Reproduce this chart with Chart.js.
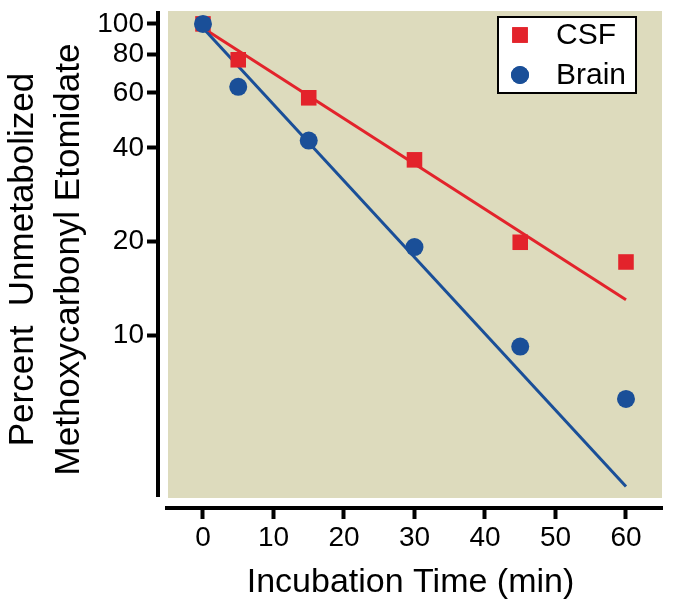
<!DOCTYPE html>
<html lang="en">
<head>
  <meta charset="UTF-8" />
  <title>Etomidate metabolism</title>
  <style>
    body { margin: 0; background: #ffffff; }
    #wrap { width: 685px; height: 608px; }
  </style>
  <script src="https://cdn.jsdelivr.net/npm/chart.js@4.4.1/dist/chart.umd.min.js"></script>
</head>
<body>
  <div id="wrap"><canvas id="chart" width="685" height="608"></canvas></div>
  <script>
    // incubation times (min)
    const times = [0, 5, 15, 30, 45, 60];
    // percent unmetabolized
    const csf = [100, 76.7, 57.9, 36.6, 19.9, 17.2];
    const brain = [100, 62.8, 42.2, 19.2, 9.2, 6.25];
    // fitted lines (end points)
    const fitTimes = [0, 60];
    const csfFit = [97, 13.0];
    const brainFit = [97, 3.27];
    // tick labels
    const xTicks = [0, 10, 20, 30, 40, 50, 60];
    const yTicks = [10, 20, 40, 60, 80, 100];

    const RED = '#e3232b';
    const BLUE = '#1a4f98';
    const FONT = 'Arial, "Liberation Sans", sans-serif';

    const pts = (xs, ys) => xs.map((x, i) => ({ x, y: ys[i] }));

    const plotBg = {
      id: 'plotBg',
      beforeDraw(chart) {
        const { ctx, chartArea: a } = chart;
        ctx.save();
        ctx.fillStyle = '#dddbbd';
        ctx.fillRect(a.left + 10, a.top, a.right - a.left - 11, a.bottom - a.top - 10);
        ctx.restore();
      },
      afterDraw(chart) {
        const { ctx, chartArea: a } = chart;
        ctx.save();
        ctx.strokeStyle = '#000';
        ctx.lineWidth = 4;
        ctx.beginPath();
        ctx.moveTo(a.left, a.top);
        ctx.lineTo(a.left, a.bottom - 11);
        ctx.moveTo(a.left + 7, a.bottom);
        ctx.lineTo(a.right, a.bottom);
        ctx.stroke();

        // legend box
        const bx = 498, by = 17, bw = 138, bh = 76;
        ctx.fillStyle = '#fff';
        ctx.fillRect(bx, by, bw, bh);
        ctx.lineWidth = 2;
        ctx.strokeRect(bx, by, bw, bh);
        const items = chart.data.datasets.filter(d => d.legendRow !== undefined)
          .sort((p, q) => p.legendRow - q.legendRow);
        ctx.font = '30px ' + FONT;
        ctx.textBaseline = 'middle';
        items.forEach((d, i) => {
          const y = by + 18 + i * 40;
          ctx.fillStyle = d.backgroundColor;
          Chart.helpers.drawPoint(ctx, {
            pointStyle: d.pointStyle, radius: d.pointRadius, rotation: 0, borderWidth: 0
          }, bx + 22, y);
          ctx.fill();
          ctx.fillStyle = '#000';
          ctx.fillText(d.label, bx + 58, y + 1);
        });
        ctx.restore();
      }
    };

    new Chart(document.getElementById('chart'), {
      type: 'scatter',
      data: {
        datasets: [
          {
            label: 'Brain', legendRow: 1,
            data: pts(times, brain),
            pointStyle: 'circle', pointRadius: 9, pointHoverRadius: 9,
            backgroundColor: BLUE, borderWidth: 0
          },
          {
            label: 'CSF', legendRow: 0,
            data: pts(times, csf),
            pointStyle: 'rect', pointRadius: 11, pointHoverRadius: 11,
            backgroundColor: RED, borderWidth: 0
          },
          {
            label: 'Brain fit',
            data: pts(fitTimes, brainFit),
            showLine: true, pointRadius: 0,
            borderColor: BLUE, borderWidth: 3
          },
          {
            label: 'CSF fit',
            data: pts(fitTimes, csfFit),
            showLine: true, pointRadius: 0,
            borderColor: RED, borderWidth: 3
          }
        ]
      },
      options: {
        responsive: false,
        animation: false,
        layout: { padding: { top: 10, right: 22, left: 0, bottom: 0 } },
        plugins: {
          legend: { display: false },
          tooltip: { enabled: false }
        },
        scales: {
          x: {
            type: 'linear',
            position: 'bottom',
            min: -6.38,
            max: 65.25,
            afterBuildTicks: s => { s.ticks = xTicks.map(v => ({ value: v })); },
            afterFit: s => { s.height = 100; s.paddingLeft = 0; s.paddingRight = 0; },
            border: { display: false },
            grid: { drawOnChartArea: false, tickLength: 11, tickWidth: 4, tickColor: '#000' },
            ticks: { color: '#000', font: { family: FONT, size: 28 }, padding: 2, maxRotation: 0, autoSkip: false },
            title: {
              display: true, text: 'Incubation Time (min)', color: '#000',
              font: { family: FONT, size: 34 }, padding: { top: 0, bottom: 5 }
            }
          },
          y: {
            type: 'logarithmic',
            position: 'left',
            min: 2.79,
            max: 110,
            bounds: 'data',
            afterBuildTicks: s => { s.ticks = yTicks.map(v => ({ value: v })); },
            afterFit: s => { s.width = 158; s.paddingTop = 0; s.paddingBottom = 0; },
            border: { display: false },
            grid: { drawOnChartArea: false, tickLength: 11, tickWidth: 4, tickColor: '#000' },
            ticks: { color: '#000', font: { family: FONT, size: 28 }, padding: 3, autoSkip: false, callback: v => String(v) },
            title: {
              display: true, text: ['Percent  Unmetabolized', 'Methoxycarbonyl Etomidate'], color: '#000',
              font: { family: FONT, size: 35, lineHeight: 1.3 }, padding: { top: 1, bottom: 0 }
            }
          }
        }
      },
      plugins: [plotBg]
    });
  </script>
</body>
</html>
